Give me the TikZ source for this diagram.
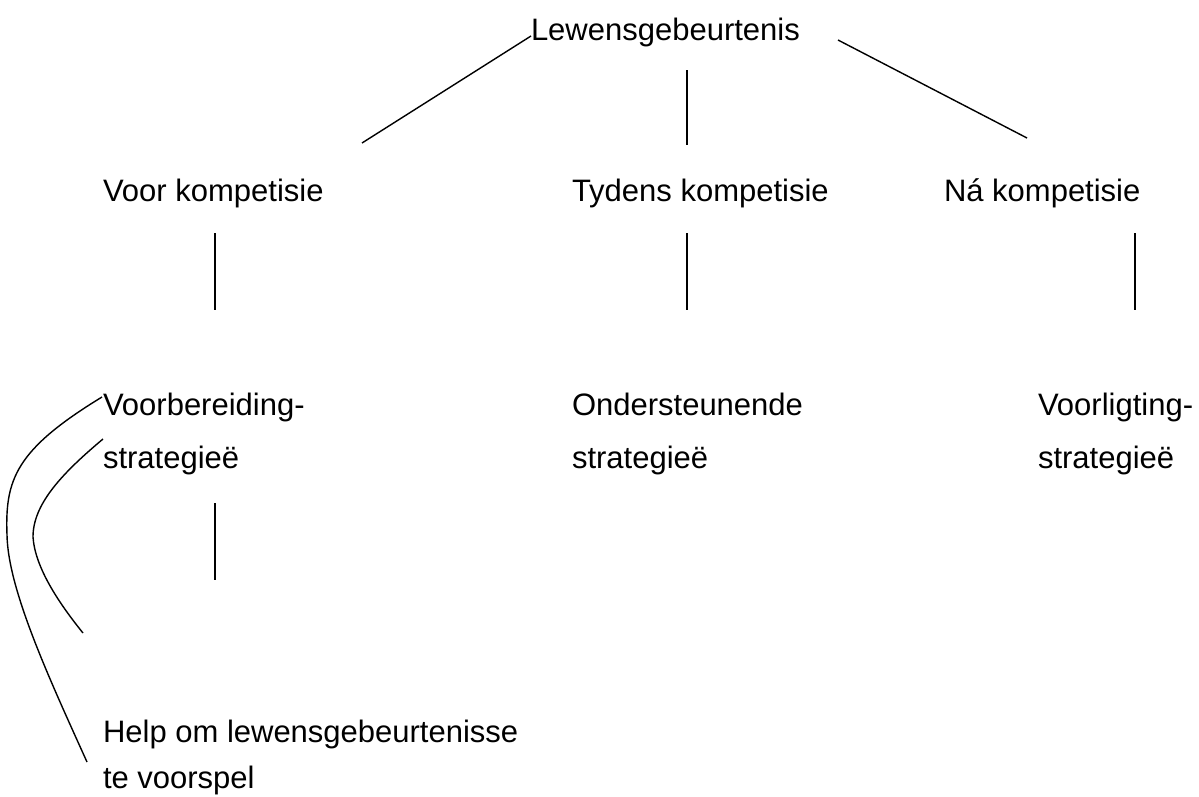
\documentclass[tikz,border=0pt]{standalone}
\usepackage{fontspec}
\setmainfont{Liberation Sans}
\begin{document}
\begin{tikzpicture}[x=1pt,y=-1pt,
  lbl/.style={anchor=base west,inner sep=0pt,outer sep=0pt,font=\fontsize{31}{36}\selectfont},
  conn/.style={draw=black,line width=1.4pt}]
\useasboundingbox (0,0) rectangle (1199,796);
% texts
\node[lbl] (root) at (531,40) {Lewensgebeurtenis};
\node[lbl] (voor) at (103,201) {Voor kompetisie};
\node[lbl] (tyd) at (572,201) {Tydens kompetisie};
\node[lbl] (na) at (944,201) {Ná kompetisie};
\node[lbl] (vb1) at (103,415) {Voorbereiding-};
\node[lbl] (vb2) at (103,468) {strategieë};
\node[lbl] (on1) at (572,415) {Ondersteunende};
\node[lbl] (on2) at (572,468) {strategieë};
\node[lbl] (vl1) at (1038,415) {Voorligting-};
\node[lbl] (vl2) at (1038,468) {strategieë};
\node[lbl] (help1) at (103,742) {Help om lewensgebeurtenisse};
\node[lbl] (help2) at (103,788) {te voorspel};
% connector end points
\coordinate (rl) at (531,36);
\coordinate (l1) at (362,143);
\coordinate (rr) at (838,40);
\coordinate (r1) at (1027,138);
\coordinate (mt) at (687,70);
\coordinate (mb) at (687,145);
\coordinate (a1) at (215,233); \coordinate (a2) at (215,310);
\coordinate (b1) at (687,233); \coordinate (b2) at (687,310);
\coordinate (c1) at (1135,233); \coordinate (c2) at (1135,310);
\coordinate (d1) at (215,503); \coordinate (d2) at (215,580);
\coordinate (o1) at (102,397); \coordinate (om) at (7,535); \coordinate (o2) at (87,762);
\coordinate (i1) at (103,439); \coordinate (im) at (33,537); \coordinate (i2) at (83,633);
% connectors
\draw[conn] (rl) -- (l1);
\draw[conn] (rr) -- (r1);
\draw[conn] (mt) -- (mb);
\draw[conn] (a1) -- (a2);
\draw[conn] (b1) -- (b2);
\draw[conn] (c1) -- (c2);
\draw[conn] (d1) -- (d2);
\draw[conn] (o1) .. controls (15,450) and (5,480) .. (om)
                 .. controls (8,590) and (50,680) .. (o2);
\draw[conn] (i1) .. controls (60,475) and (33,505) .. (im)
                 .. controls (35,567) and (58,602) .. (i2);
\end{tikzpicture}
\end{document}
